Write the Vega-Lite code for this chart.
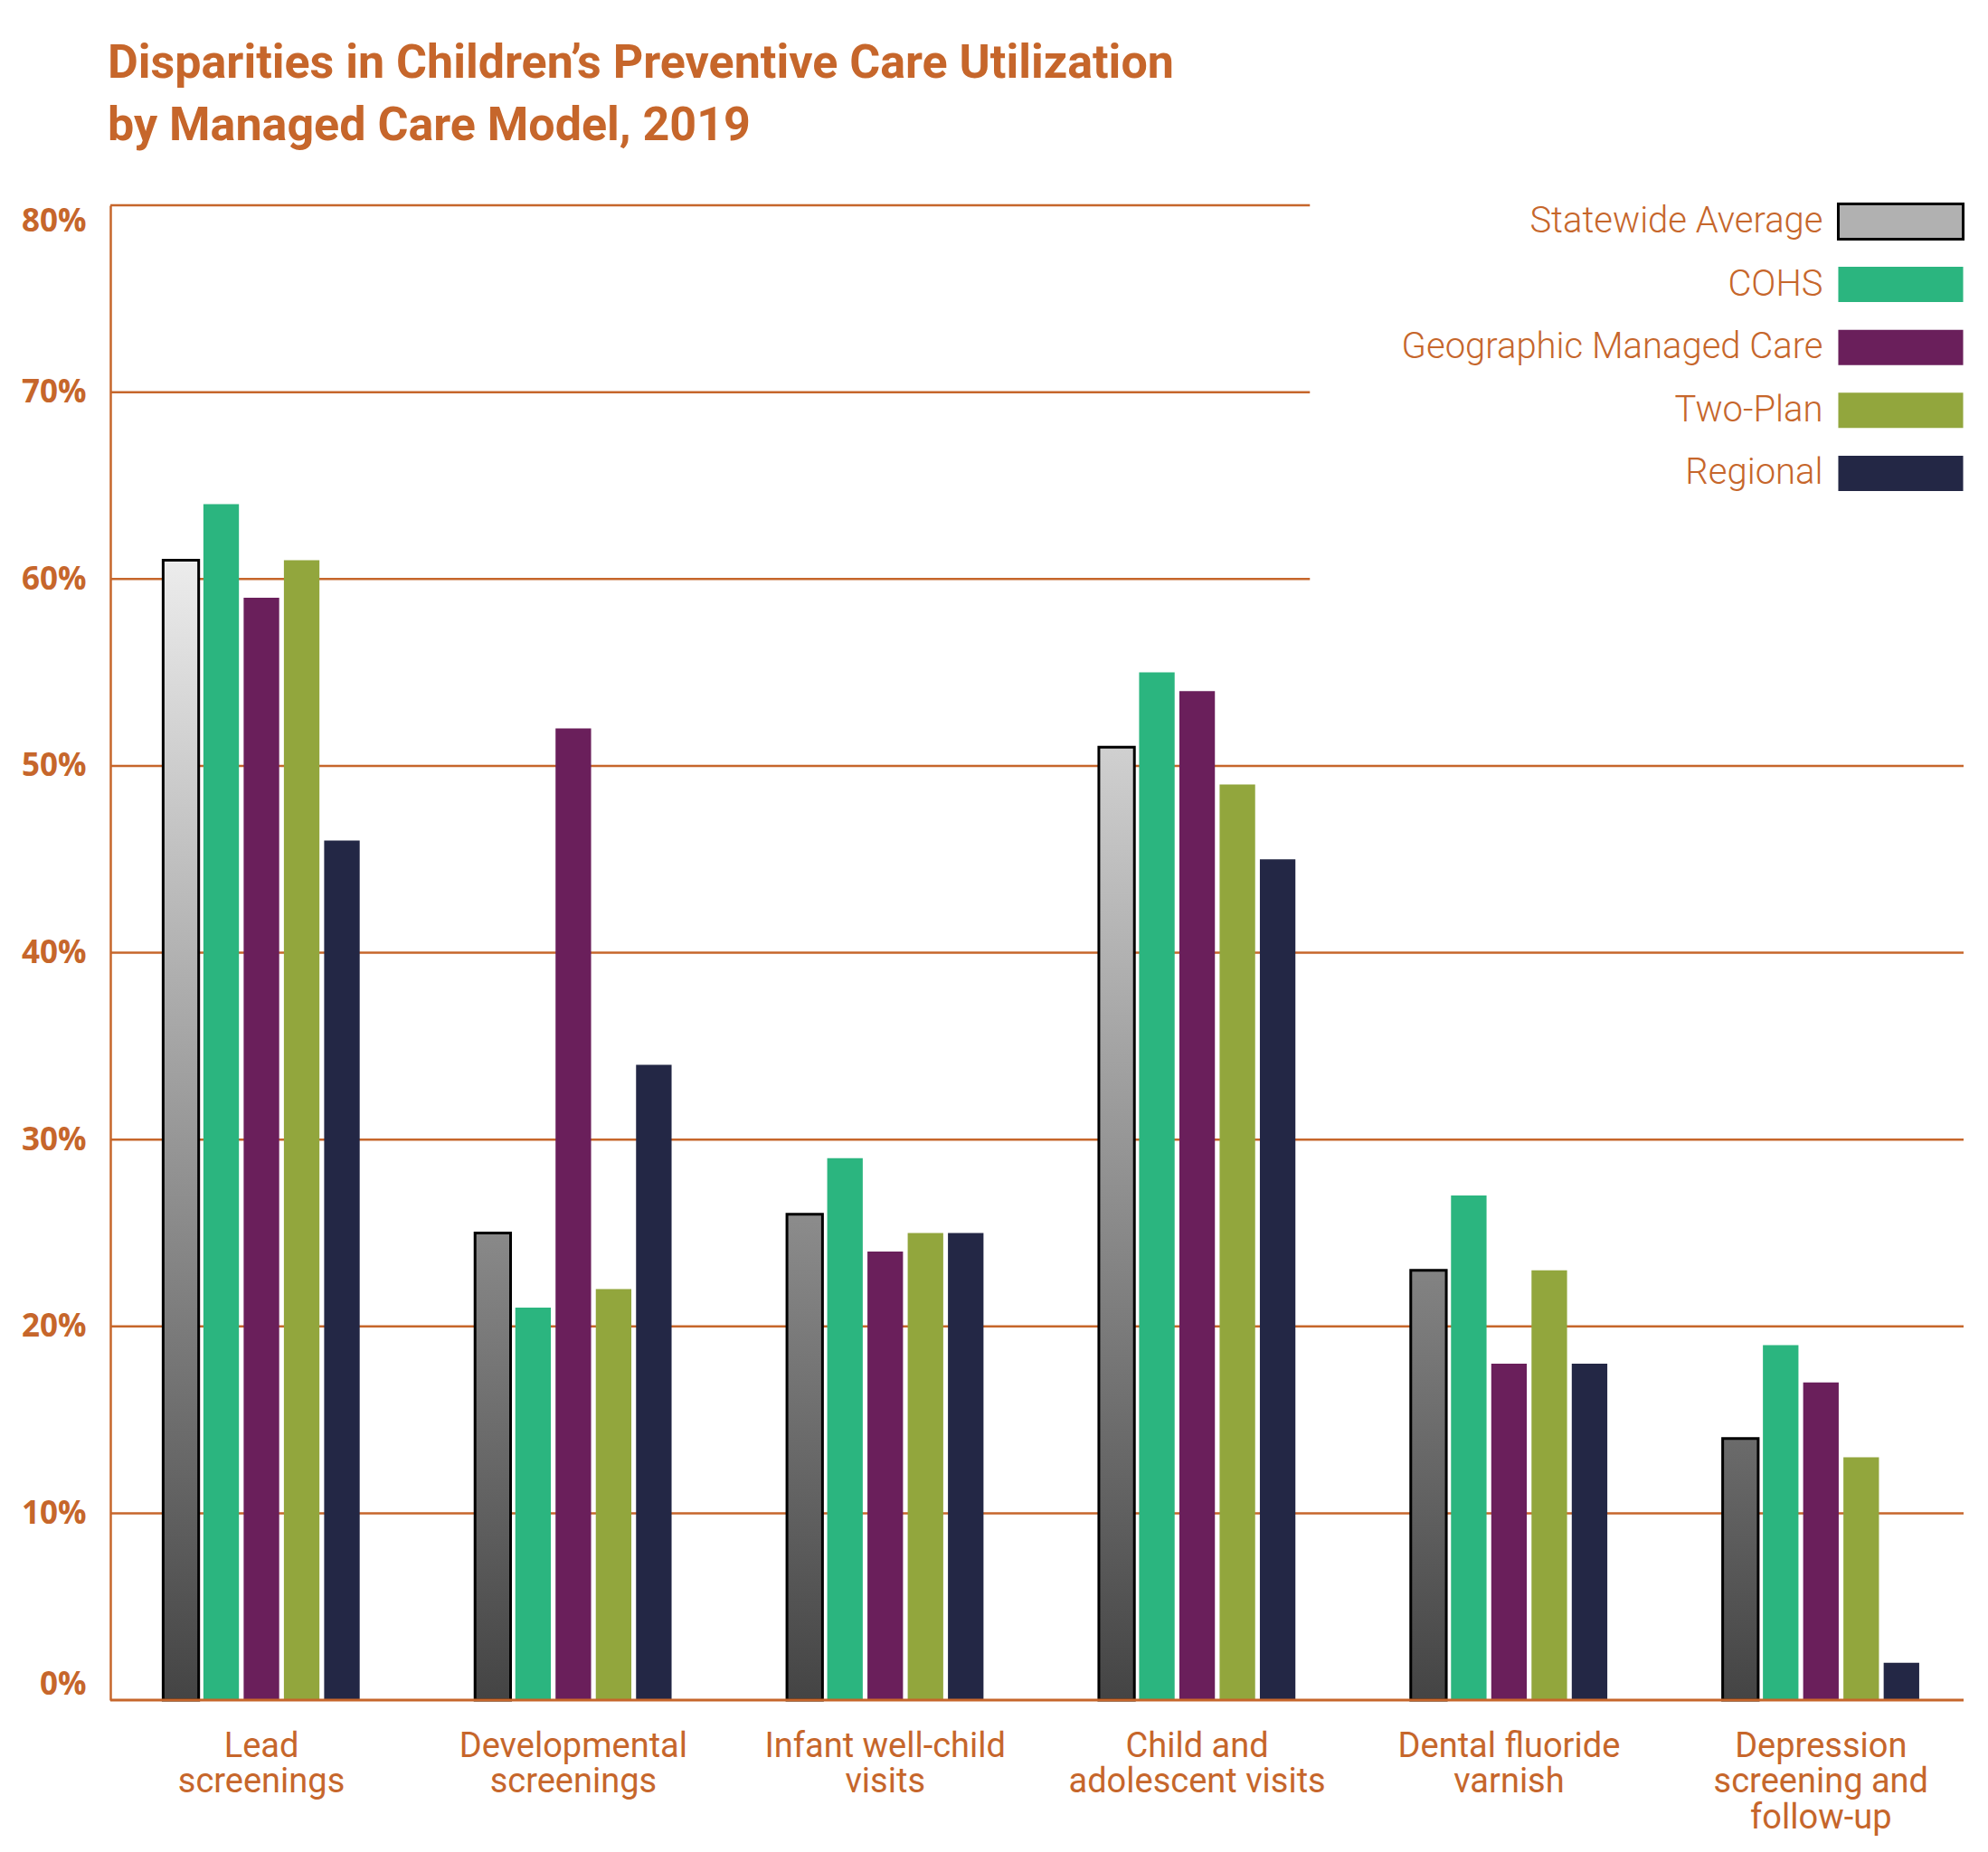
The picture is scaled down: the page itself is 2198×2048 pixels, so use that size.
{
  "$schema": "https://vega.github.io/schema/vega-lite/v6.json",
  "autosize": {"type": "none"},
  "padding": {"left": 122, "top": 227, "right": 27, "bottom": 168},
  "width": 2049,
  "height": 1653,
  "background": "white",
  "config": {"view": {"stroke": null}, "font": "Roboto"},
  "title": {
    "text": ["Disparities in Children’s Preventive Care Utilization", "by Managed Care Model, 2019"],
    "anchor": "start",
    "frame": "group",
    "dx": -3,
    "offset": 58,
    "font": "Roboto",
    "fontSize": 52,
    "fontWeight": "bold",
    "color": "#C6662B",
    "lineHeight": 69
  },
  "datasets": {
    "bars": [
      {"cat": "Lead screenings", "series": "Statewide Average", "pct": 0.61},
      {"cat": "Lead screenings", "series": "COHS", "pct": 0.64},
      {"cat": "Lead screenings", "series": "Geographic Managed Care", "pct": 0.59},
      {"cat": "Lead screenings", "series": "Two-Plan", "pct": 0.61},
      {"cat": "Lead screenings", "series": "Regional", "pct": 0.46},
      {"cat": "Developmental screenings", "series": "Statewide Average", "pct": 0.25},
      {"cat": "Developmental screenings", "series": "COHS", "pct": 0.21},
      {"cat": "Developmental screenings", "series": "Geographic Managed Care", "pct": 0.52},
      {"cat": "Developmental screenings", "series": "Two-Plan", "pct": 0.22},
      {"cat": "Developmental screenings", "series": "Regional", "pct": 0.34},
      {"cat": "Infant well-child visits", "series": "Statewide Average", "pct": 0.26},
      {"cat": "Infant well-child visits", "series": "COHS", "pct": 0.29},
      {"cat": "Infant well-child visits", "series": "Geographic Managed Care", "pct": 0.24},
      {"cat": "Infant well-child visits", "series": "Two-Plan", "pct": 0.25},
      {"cat": "Infant well-child visits", "series": "Regional", "pct": 0.25},
      {"cat": "Child and adolescent visits", "series": "Statewide Average", "pct": 0.51},
      {"cat": "Child and adolescent visits", "series": "COHS", "pct": 0.55},
      {"cat": "Child and adolescent visits", "series": "Geographic Managed Care", "pct": 0.54},
      {"cat": "Child and adolescent visits", "series": "Two-Plan", "pct": 0.49},
      {"cat": "Child and adolescent visits", "series": "Regional", "pct": 0.45},
      {"cat": "Dental fluoride varnish", "series": "Statewide Average", "pct": 0.23},
      {"cat": "Dental fluoride varnish", "series": "COHS", "pct": 0.27},
      {"cat": "Dental fluoride varnish", "series": "Geographic Managed Care", "pct": 0.18},
      {"cat": "Dental fluoride varnish", "series": "Two-Plan", "pct": 0.23},
      {"cat": "Dental fluoride varnish", "series": "Regional", "pct": 0.18},
      {"cat": "Depression screening and follow-up", "series": "Statewide Average", "pct": 0.14},
      {"cat": "Depression screening and follow-up", "series": "COHS", "pct": 0.19},
      {"cat": "Depression screening and follow-up", "series": "Geographic Managed Care", "pct": 0.17},
      {"cat": "Depression screening and follow-up", "series": "Two-Plan", "pct": 0.13},
      {"cat": "Depression screening and follow-up", "series": "Regional", "pct": 0.02}
    ],
    "gridLow": [{"pct": 0.1}, {"pct": 0.2}, {"pct": 0.3}, {"pct": 0.4}, {"pct": 0.5}],
    "gridHigh": [{"pct": 0.6}, {"pct": 0.7}, {"pct": 0.8}],
    "base": [{"pct": 0}]
  },
  "layer": [
    {
      "data": {"name": "gridLow"},
      "mark": {"type": "rule", "color": "#C6662B", "strokeWidth": 2.5},
      "encoding": {
        "y": {
          "field": "pct", "type": "quantitative", "scale": {"domain": [0, 0.8], "nice": false},
          "axis": {
            "title": null, "values": [0, 0.1, 0.2, 0.3, 0.4, 0.5, 0.6, 0.7, 0.8], "format": ".0%",
            "grid": false, "ticks": false, "domain": true, "domainColor": "#C6662B", "domainWidth": 2.5,
            "labelFlush": true, "labelPadding": 27,
            "labelFont": "Open Sans", "labelFontSize": 35, "labelFontWeight": "bold", "labelColor": "#C6662B"
          }
        }
      }
    },
    {
      "data": {"name": "gridHigh"},
      "mark": {"type": "rule", "color": "#C6662B", "strokeWidth": 2.5},
      "encoding": {
        "y": {
          "field": "pct", "type": "quantitative", "scale": {"domain": [0, 0.8], "nice": false},
          "axis": {
            "title": null, "values": [0, 0.1, 0.2, 0.3, 0.4, 0.5, 0.6, 0.7, 0.8], "format": ".0%",
            "grid": false, "ticks": false, "domain": true, "domainColor": "#C6662B", "domainWidth": 2.5,
            "labelFlush": true, "labelPadding": 27,
            "labelFont": "Open Sans", "labelFontSize": 35, "labelFontWeight": "bold", "labelColor": "#C6662B"
          }
        },
        "x": {
          "datum": "Lead screenings", "type": "nominal", "bandPosition": -0.045,
          "scale": {"domain": ["Lead screenings", "Developmental screenings", "Infant well-child visits", "Child and adolescent visits", "Dental fluoride varnish", "Depression screening and follow-up"], "paddingInner": 0.1117, "paddingOuter": 0.0267, "align": 0.753},
          "axis": {
            "title": null, "domain": false, "ticks": false, "labelAngle": 0, "labelLimit": 500,
            "labelFont": "Roboto", "labelFontSize": 38, "labelColor": "#C6662B",
            "labelPadding": 32, "labelLineHeight": 39.5, "labelBaseline": "top",
            "labelExpr": "{'Lead screenings': ['Lead', 'screenings'], 'Developmental screenings': ['Developmental', 'screenings'], 'Infant well-child visits': ['Infant well-child', 'visits'], 'Child and adolescent visits': ['Child and', 'adolescent visits'], 'Dental fluoride varnish': ['Dental fluoride', 'varnish'], 'Depression screening and follow-up': ['Depression', 'screening and', 'follow-up']}[datum.value]"
          }
        },
        "x2": {"datum": "Child and adolescent visits", "bandPosition": 0.907}
      }
    },
    {
      "data": {"name": "bars"},
      "mark": {"type": "bar", "strokeWidth": 3},
      "encoding": {
        "x": {
          "field": "cat", "type": "nominal",
          "scale": {"domain": ["Lead screenings", "Developmental screenings", "Infant well-child visits", "Child and adolescent visits", "Dental fluoride varnish", "Depression screening and follow-up"], "paddingInner": 0.1117, "paddingOuter": 0.0267, "align": 0.753},
          "axis": {
            "title": null, "domain": false, "ticks": false, "labelAngle": 0, "labelLimit": 500,
            "labelFont": "Roboto", "labelFontSize": 38, "labelColor": "#C6662B",
            "labelPadding": 32, "labelLineHeight": 39.5, "labelBaseline": "top",
            "labelExpr": "{'Lead screenings': ['Lead', 'screenings'], 'Developmental screenings': ['Developmental', 'screenings'], 'Infant well-child visits': ['Infant well-child', 'visits'], 'Child and adolescent visits': ['Child and', 'adolescent visits'], 'Dental fluoride varnish': ['Dental fluoride', 'varnish'], 'Depression screening and follow-up': ['Depression', 'screening and', 'follow-up']}[datum.value]"
          }
        },
        "xOffset": {
          "field": "series", "type": "nominal",
          "scale": {"domain": ["Statewide Average", "COHS", "Geographic Managed Care", "Two-Plan", "Regional"], "paddingInner": 0.117, "paddingOuter": 1}
        },
        "y": {
          "field": "pct", "type": "quantitative",
          "scale": {"domain": [0, 0.8], "nice": false},
          "axis": {
            "title": null, "values": [0, 0.1, 0.2, 0.3, 0.4, 0.5, 0.6, 0.7, 0.8], "format": ".0%",
            "grid": false, "ticks": false, "domain": true, "domainColor": "#C6662B", "domainWidth": 2.5,
            "labelFlush": true, "labelPadding": 27,
            "labelFont": "Open Sans", "labelFontSize": 35, "labelFontWeight": "bold", "labelColor": "#C6662B"
          }
        },
        "fill": {
          "field": "series", "type": "nominal",
          "scale": {
            "domain": ["Statewide Average", "COHS", "Geographic Managed Care", "Two-Plan", "Regional"],
            "range": ["#b1b1b1", "#2BB57F", "#6A1F5B", "#92A63D", "#232745"]
          },
          "condition": {
            "test": "datum.series === 'Statewide Average'",
            "value": {"expr": "{gradient: 'linear', x1: 0, y1: 1, x2: 0, y2: 0, stops: [{offset: 0, color: '#444444'}, {offset: 1, color: 'rgb(' + round(68 + 275 * datum.pct) + ',' + round(68 + 275 * datum.pct) + ',' + round(68 + 275 * datum.pct) + ')'}]}"}
          },
          "legend": {
            "title": null, "orient": "none", "legendX": 1911, "legendY": -3, "padding": 0,
            "symbolType": "M-3.54,-1H3.54V1H-3.54Z", "symbolSize": 1521, "symbolStrokeWidth": 3,
            "symbolStrokeColor": {"expr": "datum.value === 'Statewide Average' ? '#000000' : 'transparent'"},
            "symbolOffset": 47.5, "rowPadding": 17.6,
            "labelAlign": "right", "labelOffset": -107, "labelLimit": 700,
            "labelFont": "Roboto", "labelFontSize": 40, "labelFontWeight": 300, "labelColor": "#C6662B"
          }
        },
        "stroke": {"condition": {"test": "datum.series === 'Statewide Average'", "value": "#000000"}, "value": null}
      }
    },
    {
      "data": {"name": "base"},
      "mark": {"type": "rule", "color": "#C6662B", "strokeWidth": 3},
      "encoding": {
        "y": {
          "field": "pct", "type": "quantitative", "scale": {"domain": [0, 0.8], "nice": false},
          "axis": {
            "title": null, "values": [0, 0.1, 0.2, 0.3, 0.4, 0.5, 0.6, 0.7, 0.8], "format": ".0%",
            "grid": false, "ticks": false, "domain": true, "domainColor": "#C6662B", "domainWidth": 2.5,
            "labelFlush": true, "labelPadding": 27,
            "labelFont": "Open Sans", "labelFontSize": 35, "labelFontWeight": "bold", "labelColor": "#C6662B"
          }
        }
      }
    }
  ]
}
